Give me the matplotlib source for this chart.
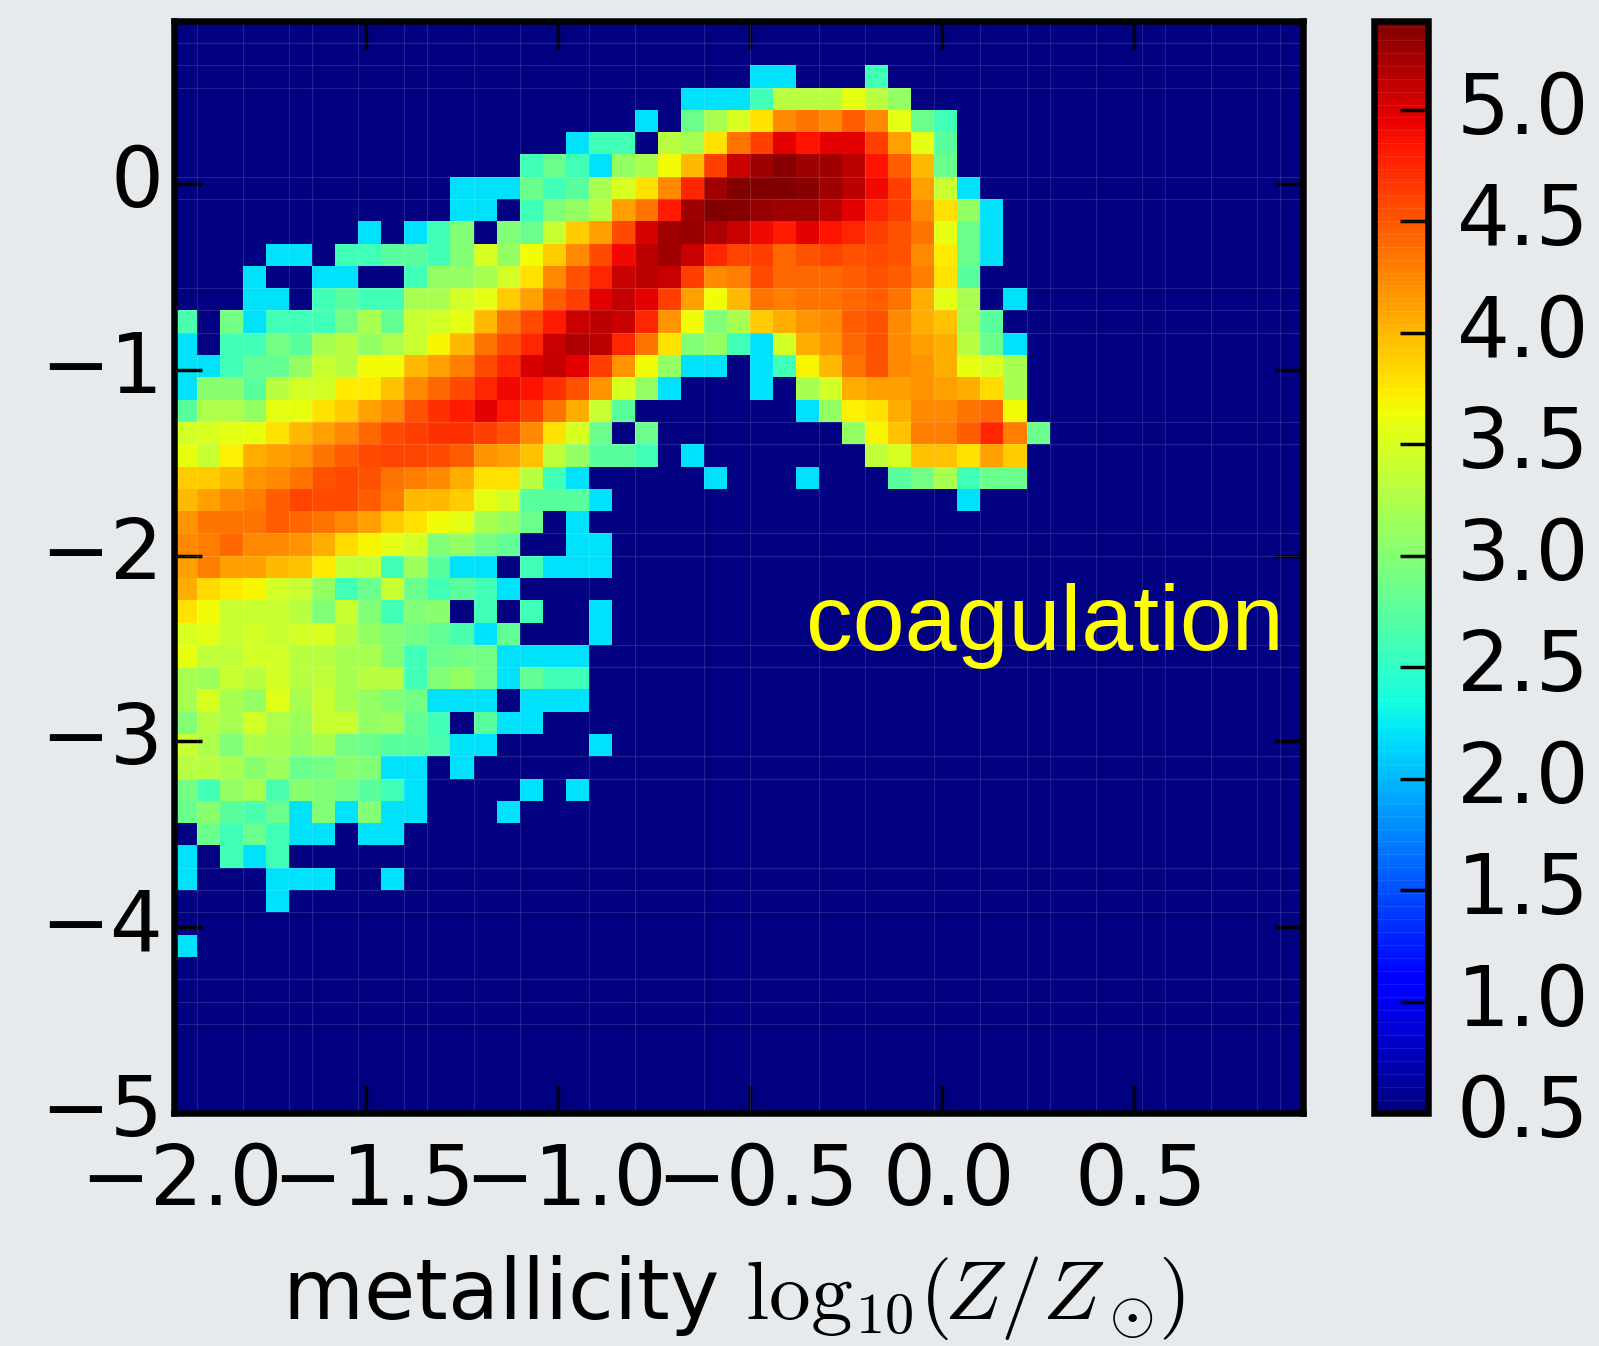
import numpy as np
import matplotlib
matplotlib.use("Agg")
import matplotlib.pyplot as plt
from matplotlib.transforms import ScaledTranslation

W, H = 1599, 1346
BG = "#E7EAED"

plt.rcParams["mathtext.fontset"] = "cm"
plt.rcParams["font.family"] = "DejaVu Sans"

# log10 counts x 10, rows from the top of the plot, columns from the left
row_00 = []
row_01 = []
row_02 = [0]*25 + [22,22,0,0,0,26]
row_03 = [0]*22 + [22,22,22,26,33,33,33,35.8,33,31]
row_04 = [0]*20 + [22,0,28.5,32,35,37.8,42.5,43.5,42.5,44.8,42.5,35.8,28.5,26]
row_05 = [0]*17 + [22,26,26,0,33,32,37.8,43.5,46.3,49.6,48.6,49.6,49.6,46.3,41.2,35.8,27.5]
row_06 = [0]*15 + [26,28.5,26,22,31,32,36.4,40,46.3,50.8,52.6,53.6,52.6,52.6,51.5,48.6,44.8,40,28.5]
row_07 = [0]*12 + [22,22,22,28.5,26,27.5,32,35,37.8,42.5,47.6,52.6,54,54,54,53.6,52.6,51.5,49.2,46.3,41.2,34,22]
row_08 = [0]*12 + [22,22,0,26,29.7,31,33,41.2,43.5,48.2,52.6,54,53.8,53,52.6,52.6,51.5,49.6,47.6,46.3,42.5,37.8,31,22]
row_09 = [0]*8 + [22,0,22,26,29.7,0,29.7,28.5,34,39,41.2,45.7,50.2,52.6,53,52,50.8,49.2,48.2,49.6,48.6,47.6,46.3,45.3,43.5,35.8,28.5,22]
row_10 = [0]*4 + [22,22,0,26,26,27.5,27.5,26,29.7,35,31,36.4,39,42.5,45.7,49.2,51.5,52.6,50.8,47.6,46,46.3,44.2,45.3,46,45.3,45.7,45.3,42.5,37.4,28.5,22]
row_11 = [0]*3 + [22,0,0,22,22,0,0,26,31,31,32,34.5,37.8,42.5,45.3,47.6,50.8,51.5,50.8,46.3,42.5,43,45.7,44.2,44.2,44.2,44.8,45.3,44.8,43,37.8,27.5]
row_12 = [0]*3 + [22,22,0,26,27.5,26,26,32,32,34.5,35.8,39,41.2,44.8,46.3,49.6,51.1,49.6,46.3,41.2,36.4,40,43.5,43,43.5,43.5,44.2,44.8,43.5,40.6,35.8,32,0,22]
row_13 = [26.5,0,29,22,26,26,26,29,32,28,34,34.5,35.8,40,43.5,45.7,48.2,50.8,51.5,50.8,47.6,41.8,36.4,29.7,32,39,40.6,41.8,42.5,44.8,45.3,42.5,40.6,39.5,32,27.5]
row_14 = [22,0,26,26,29,27.5,32,33,31,32.5,34,36.8,40,43.5,45.7,47.6,50.8,52,51.5,47.6,43.5,37.8,29.7,31,26,22,34.5,40.6,41.8,44.2,45.3,42.5,41.2,40.6,33,28.5,22]
row_15 = [22,22,26,28,28,31,34,33,36.4,36.4,40,41.2,43,45.7,47.6,50.2,51.1,49.6,46.3,41.8,36.4,31,22,22,0,22,26,36.8,40,43.5,45.3,42.5,41.8,40.6,36,35,32]
row_16 = [22,30.3,30.3,27.5,33,34.5,34.5,37.4,37.4,39.5,42.5,44.2,45.7,47.6,49.2,48.6,47,45.3,41.8,35,31,22,0,0,0,22,0,32,34.5,40.6,41.2,41.2,41.8,41.2,40.6,38.3,32]
row_17 = [27.5,32.5,32.5,31,35.8,36,37.8,39,41.2,42.5,45.3,47,48.2,49.6,48.2,46.3,43.5,40.6,34,27.5,0,0,0,0,0,0,0,22,31,37,37.8,40.6,42.5,42.5,43.5,44.2,36.4]
row_18 = [34.5,35,35.8,36,37.8,40,41.2,42.5,44.2,45.7,46.3,47,47,46.3,45.3,42.5,37.8,35,28.5,0,28.5,0,0,0,0,0,0,0,0,31,36.8,39.5,43,43,44.8,47.6,43,28.5]
row_19 = [36,34,37,40.6,41.2,41.8,43.5,44.8,45.7,46,46,45.7,44.8,41.8,41.2,39.5,33.5,31,27.5,27.5,26,0,22,0,0,0,0,0,0,0,33.5,35,39.5,39.5,37.8,41.2,39]
row_20 = [39,39,40,41.8,42.5,43.5,45.3,45.7,45.3,43.5,43,42.5,40.6,37.8,37.8,33,26,22,0,0,0,0,0,22,0,0,0,22,0,0,0,27.5,29,32,26,28.5,28.5]
row_21 = [40,41.2,42.5,43,44.8,46,45.7,45.7,44.8,43,40,40,39,35.8,34.5,27.5,27.5,27.5,22] + [0]*15 + [22]
row_22 = [41.8,43.5,43.5,43.5,44.8,44.2,43.5,42.5,41.2,39,37.8,36.4,35.8,32,31,28.5,0,22]
row_23 = [42.5,43,44.2,42.5,42.5,41.8,40.6,38.3,36.8,35.8,34.5,29.7,31,29,28,0,0,22,22]
row_24 = [41.2,43,41.2,41.2,40,39.5,37.4,34,34,26,31.5,27.5,22,22,0,26,22,22,22]
row_25 = [40.6,38.3,37.4,36.8,34.5,34,31,26,28.5,34,28.5,26,27.5,26,22]
row_26 = [37.8,36.4,34,34,34,33,29.7,34,29.7,26,29.7,30.3,0,26,0,26,0,0,22]
row_27 = [35,35.5,34,34.5,34,34.5,35,33,31,29.7,29,28,26.5,22,28,0,0,0,22]
row_28 = [36,33.5,33.5,34.5,34.5,33,33,32,32,29.7,26,28.5,29,29,22,22,22,22]
row_29 = [32,31.5,34,33,34.5,33,33.5,32,33,33,26,29.7,31,29,22,28,26,26]
row_30 = [32,35,32,31,35.5,32,34,32,31,29.7,29,22,22,22,0,22,22,22]
row_31 = [29.7,33,32,34.5,32.5,31.5,34,34,31,31.5,28,26,0,27.5,22,22]
row_32 = [34,32.5,29.7,32.5,32,31,32,29,28.5,27.5,27.5,26.5,22,22,0,0,0,0,22]
row_33 = [33,33,32,30.3,31.5,28.5,29,30.3,29.7,22,22,0,22]
row_34 = [29,26,31,32,26.5,30.3,29.7,29,27.5,26,22,0,0,0,0,22,0,22]
row_35 = [28.5,30.3,27.5,26.5,28.5,22,29.7,22,29.7,22,22,0,0,0,22]
row_36 = [0,28.5,26,28.5,26,22,22,0,22,22]
row_37 = [22,0,26,22,26]
row_38 = [22,0,0,0,22,22,22,0,0,22]
row_39 = [0,0,0,0,22]
row_40 = []
row_41 = [22]

rows_top_down = [row_00,row_01,row_02,row_03,row_04,row_05,row_06,row_07,row_08,row_09,
                 row_10,row_11,row_12,row_13,row_14,row_15,row_16,row_17,row_18,row_19,
                 row_20,row_21,row_22,row_23,row_24,row_25,row_26,row_27,row_28,row_29,
                 row_30,row_31,row_32,row_33,row_34,row_35,row_36,row_37,row_38,row_39,
                 row_40,row_41]

x_ticks = [-2.0, -1.5, -1.0, -0.5, 0.0, 0.5]
y_ticks = [-5, -4, -3, -2, -1, 0]
cbar_ticks = [0.5, 1.0, 1.5, 2.0, 2.5, 3.0, 3.5, 4.0, 4.5, 5.0]
x_label = r"metallicity $\log_{10}\!(\hspace{-0.1}Z/Z_\odot\!)$"
annotation = "coagulation"

NBINS = 49
grid = np.zeros((NBINS, NBINS))
for i, r in enumerate(rows_top_down):
    grid[NBINS - 1 - i, :len(r)] = np.array(r, dtype=float) / 10.0

x_edges = np.linspace(-2.0, 0.94, NBINS + 1)
y_edges = np.linspace(-5.0, 0.88, NBINS + 1)

fig = plt.figure(figsize=(W / 100, H / 100), dpi=100, facecolor=BG)
L, R, T, B = 174.0, 1303.0, 20.7, 1113.0
ax = fig.add_axes([L / W, 1 - B / H, (R - L) / W, (B - T) / H])
mesh = ax.pcolormesh(x_edges, y_edges, grid, cmap="jet", vmin=0.5, vmax=5.4,
                     shading="flat", linewidth=0, rasterized=True)
ax.set_xlim(-2.0, 0.94)
ax.set_ylim(-5.0, 0.88)

# faint resampling seams visible in the reference
seam_cols = [1,3,5,6,8,10,11,13,15,18,20,23,25,28,30,33,35,37,38,40,42,43,45,47,48]
seam_rows = [1,2,3,7,8,12,13,14,18,19,23,24,28,29,33,34,38,39,40,43,44,45]
ax.vlines(x_edges[seam_cols], -5.0, 0.88, color="white", alpha=0.13, lw=0.9)
ax.hlines(y_edges[NBINS - np.array(seam_rows)], -2.0, 0.94, color="white", alpha=0.13, lw=0.9)

FS = 60
ax.set_xticks(x_ticks)
ax.set_yticks(y_ticks)
ax.set_xticklabels(["\u2212%.1f" % abs(v) if v < 0 else "%.1f" % v for v in x_ticks])
ax.set_yticklabels(["\u2212%d" % abs(v) if v < 0 else "%d" % v for v in y_ticks])
ax.tick_params(axis="both", which="major", direction="in", top=True, right=True,
               length=20, width=2.5, color="black", labelsize=FS, zorder=5)
ax.tick_params(axis="x", pad=20.5)
ax.tick_params(axis="y", pad=7.7)
for s in ax.spines.values():
    s.set_linewidth(4.7)

up = ScaledTranslation(0, 0.09, fig.dpi_scale_trans)
right = ScaledTranslation(0.07, 0, fig.dpi_scale_trans)
for lab in ax.get_yticklabels():
    lab.set_transform(lab.get_transform() + up)
for lab in ax.get_xticklabels():
    lab.set_transform(lab.get_transform() + right)

cL, cR = 1373.7, 1428.0
cax = fig.add_axes([cL / W, 1 - B / H, (cR - cL) / W, (B - T) / H])
cb = fig.colorbar(mesh, cax=cax, ticks=cbar_ticks)
cb.outline.set_linewidth(4.7)
cax.set_yticklabels(["%.1f" % v for v in cbar_ticks])
cax.tick_params(axis="y", direction="in", length=20, width=2.5, color="black",
                labelsize=FS, pad=20.5, right=True, left=False)
cax.hlines(np.arange(0.5, 5.4, 0.058), 0, 1, color="white", alpha=0.10, lw=0.6)
up_c = ScaledTranslation(0, 0.08, fig.dpi_scale_trans)
for lab in cax.get_yticklabels():
    lab.set_transform(lab.get_transform() + up_c)

fig.text(806 / W, 1 - 650 / H, annotation, color="#FFFF00", fontsize=67.2,
         family="Liberation Sans", va="baseline", ha="left", zorder=10)
fig.text(282 / W, 1 - 1319 / H, x_label, color="black", fontsize=FS,
         va="baseline", ha="left")

fig.savefig("out.png", dpi=100, facecolor=BG)
